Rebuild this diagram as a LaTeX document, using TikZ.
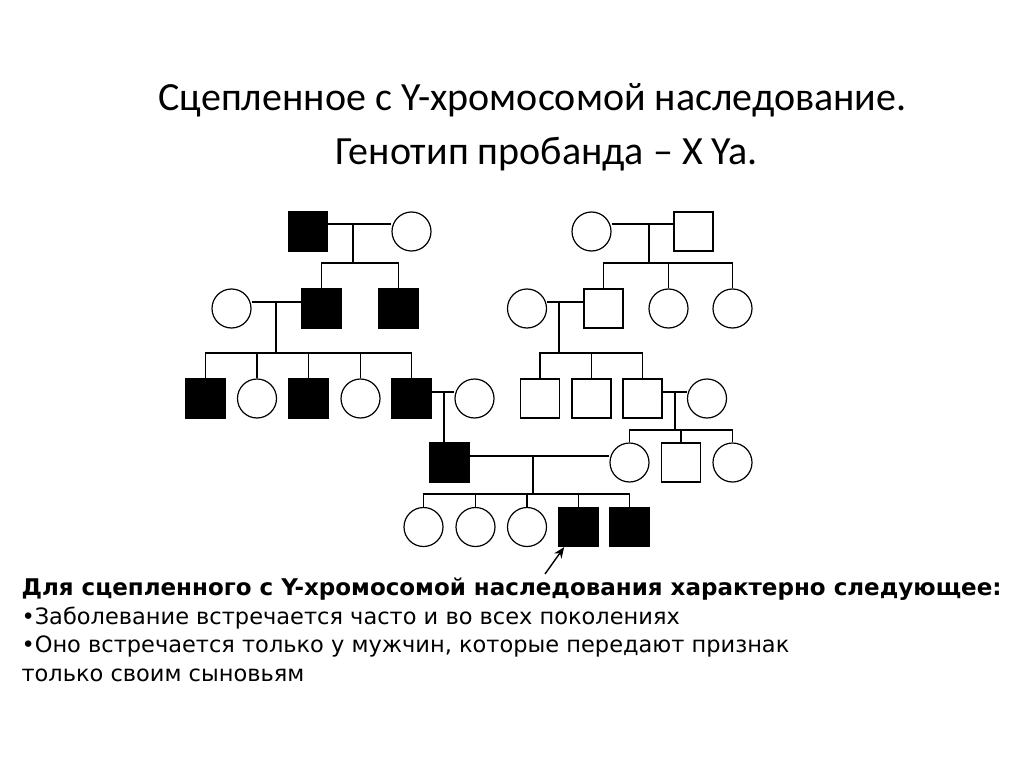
\documentclass[tikz,border=0pt]{standalone}
\usepackage{fontspec}
\setmainfont{DejaVu Sans}
\newfontfamily\titlefont{Carlito}
\usetikzlibrary{arrows.meta}

\tikzstyle{male} = [rectangle, draw, line width=1.2pt, minimum size=39pt, inner sep=0pt]
\tikzstyle{female} = [circle, draw, line width=1.2pt, minimum size=39pt, inner sep=0pt]
\tikzstyle{ill} = [fill=black]
\tikzstyle{link} = [draw, line width=1.2pt]

\begin{document}
\begin{tikzpicture}[x=1pt, y=-1pt]

\useasboundingbox (0,0) rectangle (1024,767);

% title
\node [anchor=base west, font=\titlefont\fontsize{40}{48}\selectfont] (t1) at (155,111) {Сцепленное с Y-хромосомой наследование.};

\node [anchor=base west, font=\titlefont\fontsize{40}{48}\selectfont] (t2) at (332,165) {Генотип пробанда – X Ya.};

% generation I
\node [male, ill] (a1) at (308,231.5) {};

\node [female] (a2) at (411.5,231.5) {};

\node [female] (b1) at (591.5,231.5) {};

\node [male] (b2) at (693.5,231.5) {};

% generation II
\node [female] (a3) at (231.5,308.5) {};

\node [male, ill] (a4) at (321.5,308.5) {};

\node [male, ill] (a5) at (398.5,308.5) {};

\node [female] (b3) at (527,308.5) {};

\node [male] (b4) at (603.5,308.5) {};

\node [female] (b5) at (668.5,308.5) {};

\node [female] (b6) at (732.5,308.5) {};

% generation III
\node [male, ill] (a6) at (205.5,398.5) {};

\node [female] (a7) at (257,398.5) {};

\node [male, ill] (a8) at (308.5,398.5) {};

\node [female] (a9) at (360.5,398.5) {};

\node [male, ill] (a10) at (411.5,398.5) {};

\node [female] (a11) at (474.5,398.5) {};

\node [male] (b7) at (540,398.5) {};

\node [male] (b8) at (591.5,398.5) {};

\node [male] (b9) at (642.5,398.5) {};

\node [female] (b10) at (707,398.5) {};

% generation IV
\node [male, ill] (c1) at (449.5,462.5) {};

\node [female] (c2) at (629.5,462.5) {};

\node [male] (c3) at (681,462.5) {};

\node [female] (c4) at (732.5,462.5) {};

% generation V
\node [female] (d1) at (423.5,527) {};

\node [female] (d2) at (475.5,527) {};

\node [female] (d3) at (527,527) {};

\node [male, ill] (d4) at (578.5,527) {};

\node [male, ill] (d5) at (629.5,527) {};

% marriage and sibling points
\coordinate (ma1) at (353,224);
\coordinate (sa1) at (353,263);
\coordinate (mb1) at (649,224);
\coordinate (sb1) at (649,263);
\coordinate (ma2) at (276,302);
\coordinate (sa2) at (276,353);
\coordinate (mb2) at (559,302);
\coordinate (sb2) at (559,353);
\coordinate (ma3) at (444,392);
\coordinate (mb3) at (675,392);
\coordinate (sb3) at (675,430);
\coordinate (mc) at (533,456);
\coordinate (sc) at (533,494);
\coordinate (ptr) at (545,574);

\draw [link] (a1.east |- ma1) -- (a2.west |- ma1);
\draw [link] (ma1) -- (sa1);
\draw [link] (sa1) -| (a4.north);
\draw [link] (sa1) -| (a5.north);

\draw [link] (b1.east |- mb1) -- (b2.west |- mb1);
\draw [link] (mb1) -- (sb1);
\draw [link] (sb1) -| (b4.north);
\draw [link] (sb1) -| (b5.north);
\draw [link] (sb1) -| (b6.north);

\draw [link] (a3.east |- ma2) -- (a4.west |- ma2);
\draw [link] (ma2) -- (sa2);
\foreach \k in {a6,a7,a8,a9,a10} \draw [link] (sa2) -| (\k.north);

\draw [link] (b3.east |- mb2) -- (b4.west |- mb2);
\draw [link] (mb2) -- (sb2);
\foreach \k in {b7,b8,b9} \draw [link] (sb2) -| (\k.north);

\draw [link] (a10.east |- ma3) -- (a11.west |- ma3);
\draw [link] (ma3) -- (ma3 |- c1.north);

\draw [link] (b9.east |- mb3) -- (b10.west |- mb3);
\draw [link] (mb3) -- (sb3);
\foreach \k in {c2,c3,c4} \draw [link] (sb3) -| (\k.north);

\draw [link] (c1.east |- mc) -- (c2.west |- mc);
\draw [link] (mc) -- (sc);
\foreach \k in {d1,d2,d3,d4,d5} \draw [link] (sc) -| (\k.north);

% proband
\draw [line width=1.4pt, -{Stealth[length=11pt, width=9pt]}] (ptr) -- (d4);

% notes
\node [anchor=base west, font=\bfseries\fontsize{23}{27}\selectfont] (n1) at (18,595) {Для сцепленного с Y-хромосомой наследования характерно следующее:};

\node [anchor=base west, font=\fontsize{22.5}{27}\selectfont] (n2) at (18,624) {•Заболевание встречается часто и во всех поколениях};

\node [anchor=base west, font=\fontsize{22.5}{27}\selectfont] (n3) at (18,652) {•Оно встречается только у мужчин, которые передают признак};

\node [anchor=base west, font=\fontsize{22.5}{27}\selectfont] (n4) at (18,681) {только своим сыновьям};

\end{tikzpicture}
\end{document}
